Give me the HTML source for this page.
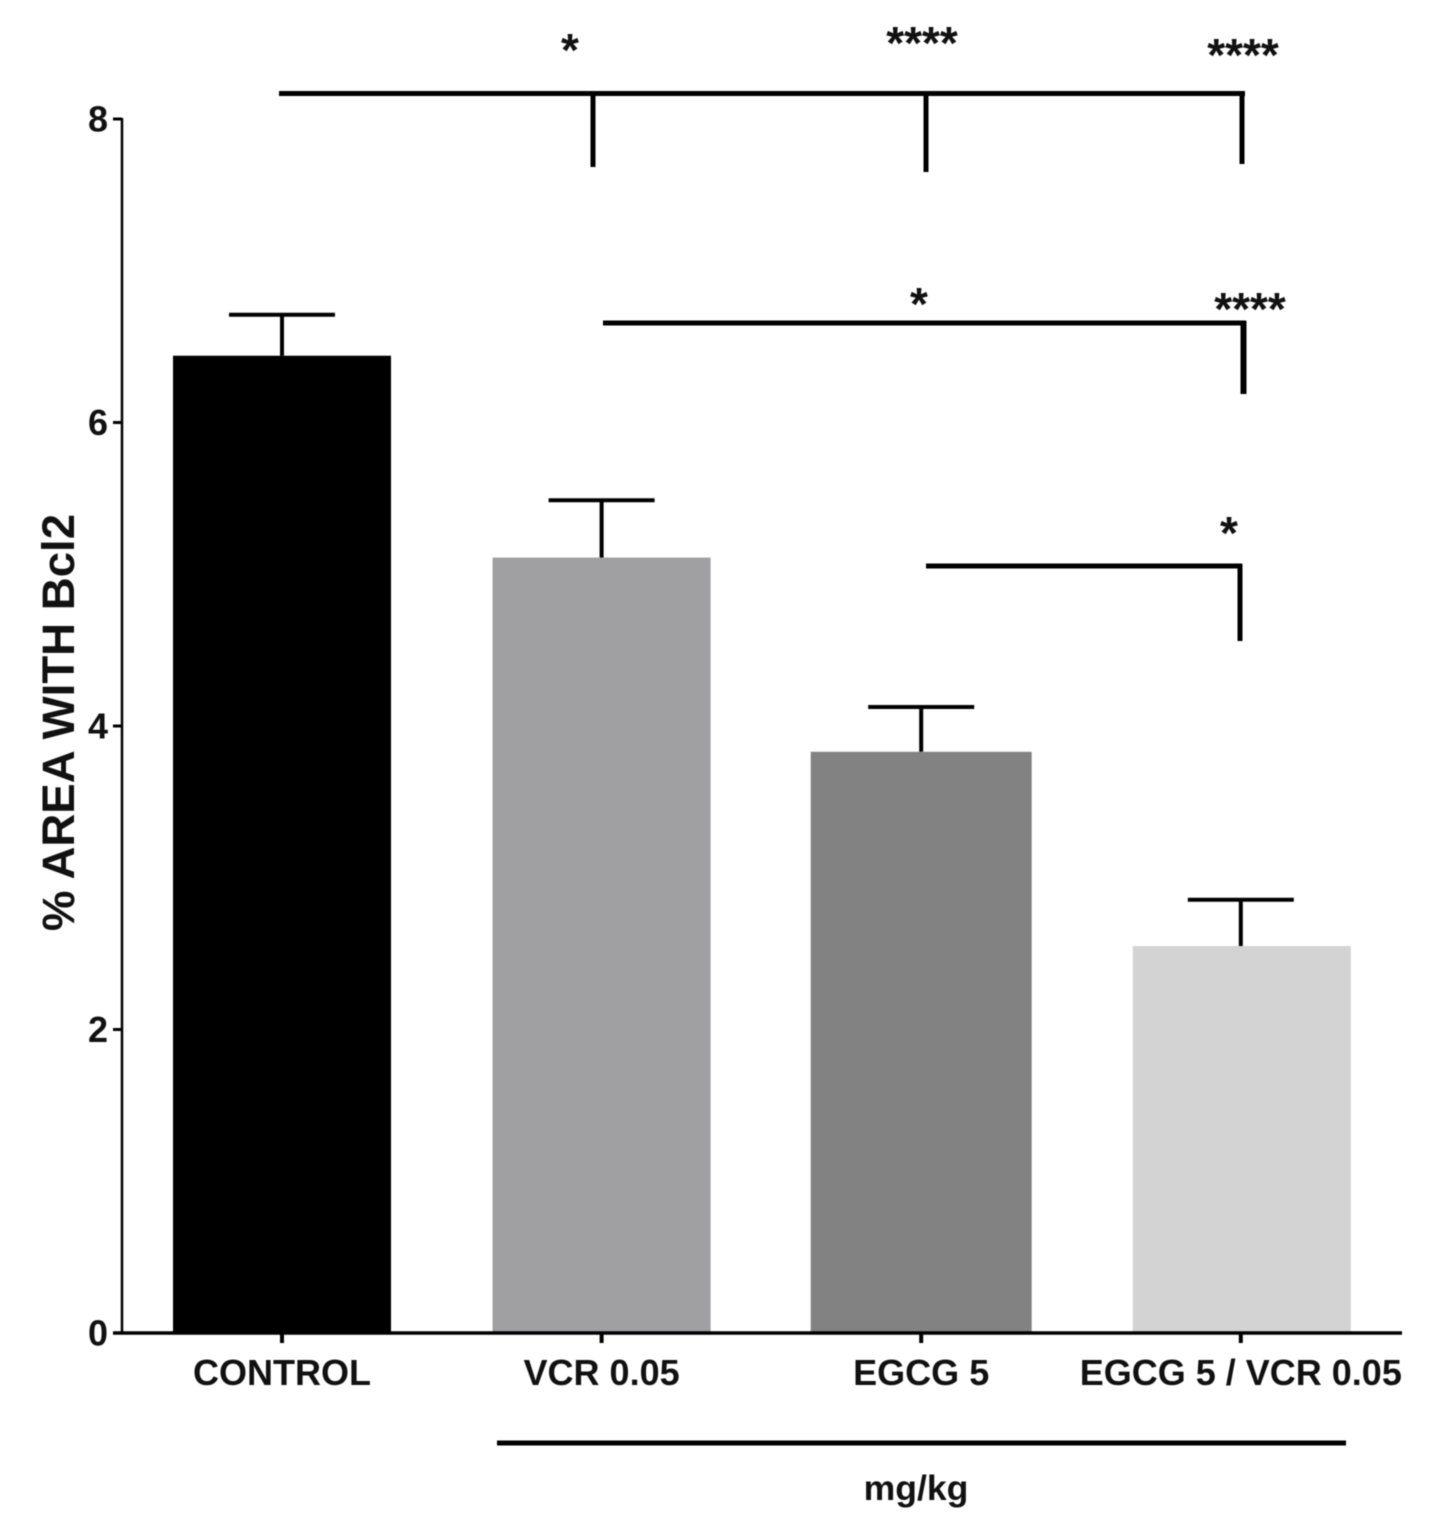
<!DOCTYPE html>
<html lang="en">
<head>
<meta charset="utf-8">
<title>% Area with Bcl2</title>
<style>
html,body{margin:0;padding:0;background:#fff;}
svg{display:block;filter:blur(0.6px);}
text{font-family:"Liberation Sans",Arial,sans-serif;font-weight:700;fill:#111;}
</style>
</head>
<body>
<svg id="chart" xmlns="http://www.w3.org/2000/svg" width="1440" height="1538" viewBox="0 0 1440 1538">
<rect x="0" y="0" width="1440" height="1538" fill="#fff"/>
</svg>
<script>
const categories = ['CONTROL', 'VCR 0.05', 'EGCG 5', 'EGCG 5 / VCR 0.05'];
const barValues = [6.44, 5.11, 3.83, 2.55];
const errorValues = [0.27, 0.378, 0.295, 0.305];
const barColors = ['#000000', '#a0a0a3', '#828282', '#d3d3d3'];
const yTickValues = [0, 2, 4, 6, 8];
const yAxisTitle = '% AREA WITH Bcl2';
const groupLabel = 'mg/kg';

const svg = document.getElementById('chart');
const NS = 'http://www.w3.org/2000/svg';

function yScale(v) { return 1333 - v * (1333 - 119) / 8; }
function xScale(i) { return 282 + i * 319.6; }

function line(parent, x1, y1, x2, y2, w, name) {
  const el = document.createElementNS(NS, 'line');
  el.setAttribute('x1', x1);
  el.setAttribute('y1', y1);
  el.setAttribute('x2', x2);
  el.setAttribute('y2', y2);
  el.setAttribute('stroke', '#000');
  el.setAttribute('stroke-width', w);
  
  
  parent.appendChild(el);
  return el;
}

function label(parent, x, y, str, size, anchor, name) {
  const el = document.createElementNS(NS, 'text');
  el.setAttribute('x', x);
  el.setAttribute('y', y);
  el.setAttribute('font-size', size);
  el.setAttribute('text-anchor', anchor);
  
  
  el.textContent = str;
  parent.appendChild(el);
  return el;
}

const barWidth = 218;
categories.forEach((c, i) => {
  const x = xScale(i);
  const top = yScale(barValues[i]);
  const errTop = yScale(barValues[i] + errorValues[i]);
  const extraLeft = i === 2 ? 1.5 : 0;
  const extraRight = i === 2 ? 1.5 : (i === 3 ? 1 : 0);

  line(svg, x, top, x, errTop, 4, 'error-stem-' + i);
  line(svg, x - 53, errTop, x + 53, errTop, 4, 'error-cap-' + i);

  const bar = document.createElementNS(NS, 'rect');
  bar.setAttribute('x', x - barWidth / 2 - extraLeft + (i === 3 ? 1 : 0));
  bar.setAttribute('y', top);
  bar.setAttribute('width', barWidth + extraLeft + extraRight - (i === 3 ? 1 : 0));
  bar.setAttribute('height', yScale(0) - top);
  bar.setAttribute('fill', barColors[i]);
  
  
  svg.appendChild(bar);

  line(svg, x, 1333, x, 1343, 4, 'x-tick-' + i);
  label(svg, x, 1385, c, 36, 'middle', 'x-tick-label-' + i);
});

line(svg, 122, 118, 122, 1334, 2.5, 'y-axis-line');
line(svg, 113, 1333, 1402, 1333, 3.5, 'x-axis-line');

yTickValues.forEach((t, i) => {
  const y = yScale(t);
  line(svg, 113, y, 122, y, 3, 'y-tick-' + i);
  label(svg, 108, y + 12.5, String(t), 36, 'end', 'y-tick-label-' + i);
});

const yTitle = label(svg, 0, 0, yAxisTitle, 45.6, 'middle', 'y-axis-title');
yTitle.setAttribute('transform', 'translate(74,722.5) rotate(-90)');

// Significance brackets
line(svg, 279, 93.5, 1245, 93.5, 5, 'bracket-top');
line(svg, 593, 93, 593, 167, 5, 'bracket-top-drop-vcr');
line(svg, 926, 93, 926, 172, 5, 'bracket-top-drop-egcg');
line(svg, 1242, 91, 1242, 164, 5, 'bracket-top-drop-combo');
line(svg, 603, 323, 1246, 323, 5, 'bracket-middle');
line(svg, 1243.5, 321, 1243.5, 394, 6, 'bracket-middle-drop');
line(svg, 926, 566, 1242, 566, 5, 'bracket-lower');
line(svg, 1240, 564, 1240, 641, 5, 'bracket-lower-drop');

label(svg, 570, 66, '*', 46, 'middle', 'significance-top-vcr');
label(svg, 922, 59, '****', 46, 'middle', 'significance-top-egcg');
label(svg, 1243, 71, '****', 46, 'middle', 'significance-top-combo');
label(svg, 919, 320, '*', 46, 'middle', 'significance-middle-egcg');
label(svg, 1250, 325, '****', 46, 'middle', 'significance-middle-combo');
label(svg, 1229, 549, '*', 46, 'middle', 'significance-lower-combo');

line(svg, 497, 1443, 1346, 1443, 5, 'dose-group-line');
label(svg, 916, 1500, groupLabel, 35.6, 'middle', 'dose-unit-label');
</script>
</body>
</html>
